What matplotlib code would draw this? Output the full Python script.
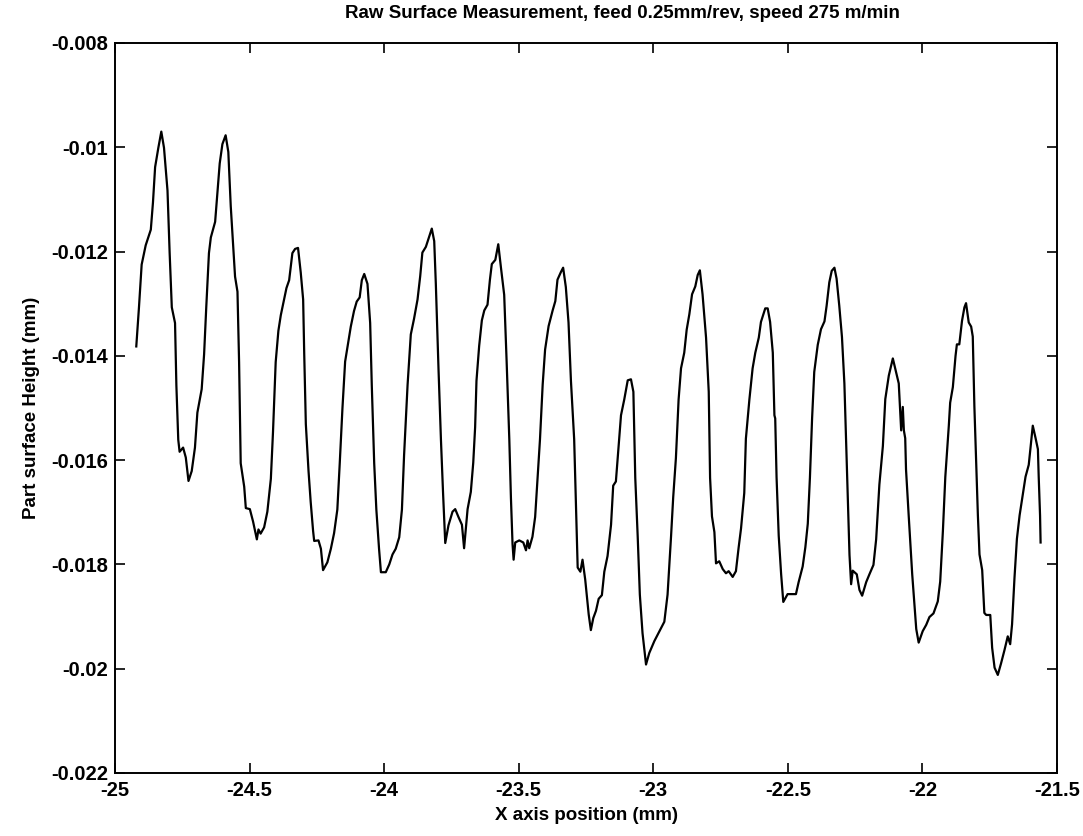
import matplotlib
matplotlib.use("Agg")
import matplotlib.pyplot as plt
import numpy as np

plt.rcParams['font.family'] = ['Liberation Sans', 'DejaVu Sans']

# x axis position (mm)
x_pos = [
    -24.921, -24.911, -24.901, -24.886, -24.867, -24.859, -24.851, -24.839, -24.828, -24.818,
    -24.805, -24.797, -24.789, -24.777, -24.772, -24.765, -24.760, -24.747, -24.737, -24.727,
    -24.715, -24.703, -24.694, -24.678, -24.669, -24.661, -24.651, -24.644, -24.628, -24.620,
    -24.611, -24.601, -24.589, -24.579, -24.570, -24.554, -24.545, -24.539, -24.533, -24.520,
    -24.514, -24.499, -24.487, -24.473, -24.467, -24.459, -24.446, -24.434, -24.421, -24.413,
    -24.403, -24.393, -24.384, -24.372, -24.363, -24.353, -24.341,
    -24.331, -24.320, -24.310, -24.301, -24.297, -24.291, -24.281, -24.273, -24.264, -24.260,
    -24.244, -24.235, -24.227, -24.211, -24.198, -24.186, -24.174, -24.165, -24.155, -24.145,
    -24.136, -24.124, -24.112, -24.102, -24.091, -24.083, -24.074, -24.062, -24.052, -24.046,
    -24.037, -24.029, -24.019, -24.012, -23.994, -23.981, -23.969, -23.957, -23.944, -23.934,
    -23.926, -23.913, -23.901, -23.889, -23.876, -23.866, -23.858, -23.845, -23.833, -23.823,
    -23.814, -23.808, -23.798, -23.789, -23.781, -23.773, -23.761, -23.746,
    -23.736, -23.724, -23.711, -23.703, -23.690, -23.678, -23.669, -23.662, -23.657, -23.647,
    -23.637, -23.628, -23.616, -23.607, -23.600, -23.587, -23.576, -23.566, -23.554, -23.545,
    -23.535, -23.529, -23.523, -23.519, -23.513, -23.498, -23.483, -23.473, -23.467, -23.461,
    -23.449, -23.439, -23.430, -23.421, -23.411, -23.402, -23.389, -23.374, -23.364, -23.356,
    -23.343, -23.335, -23.325, -23.315, -23.306, -23.294, -23.288, -23.281, -23.271, -23.263,
    -23.253, -23.240, -23.232, -23.223, -23.213, -23.203, -23.191, -23.182, -23.170, -23.157,
    -23.149,
    -23.139, -23.129, -23.120, -23.108, -23.095, -23.083, -23.074, -23.067, -23.058, -23.050,
    -23.040, -23.027, -23.015, -22.996, -22.978, -22.959, -22.947, -22.934, -22.926, -22.916,
    -22.906, -22.897, -22.885, -22.876, -22.866, -22.856, -22.844, -22.835, -22.827, -22.817,
    -22.804, -22.794, -22.789, -22.782, -22.773, -22.767, -22.755, -22.742, -22.730, -22.720,
    -22.705, -22.693, -22.683, -22.674, -22.662, -22.656, -22.643, -22.631, -22.621, -22.608,
    -22.600, -22.584, -22.575, -22.566, -22.556, -22.550,
    -22.547, -22.542, -22.534, -22.525, -22.517, -22.501, -22.482, -22.470, -22.460, -22.445,
    -22.435, -22.426, -22.418, -22.410, -22.402, -22.389, -22.377, -22.364, -22.356, -22.346,
    -22.337, -22.327, -22.319, -22.309, -22.299, -22.290, -22.284, -22.278, -22.271, -22.265,
    -22.259, -22.244, -22.234, -22.224, -22.209, -22.197, -22.182, -22.172, -22.160, -22.147,
    -22.138, -22.125, -22.110, -22.098, -22.088, -22.079, -22.073, -22.069, -22.064, -22.061,
    -22.051, -22.038, -22.023, -22.014, -21.999, -21.986, -21.974, -21.959,
    -21.943, -21.934, -21.924, -21.915, -21.902, -21.897, -21.887, -21.877, -21.872, -21.863,
    -21.853, -21.844, -21.838, -21.828, -21.819, -21.813, -21.807, -21.801, -21.794, -21.788,
    -21.778, -21.770, -21.763, -21.748, -21.741, -21.732, -21.720, -21.708, -21.695, -21.683,
    -21.674, -21.667, -21.658, -21.649, -21.639, -21.630, -21.617, -21.605, -21.599, -21.590,
    -21.580, -21.571, -21.568, -21.563, -21.561,
]

# part surface height (units of 1e-3 mm)
height_um = [
    -13.82, -13.07, -12.25, -11.88, -11.58, -11.06, -10.38, -10.01, -9.70, -10.01,
    -10.83, -12.03, -13.07, -13.37, -14.57, -15.61, -15.84, -15.76, -15.95, -16.40,
    -16.21, -15.76, -15.09, -14.64, -13.97, -13.07, -12.03, -11.73, -11.43, -10.91,
    -10.31, -9.94, -9.77, -10.09, -11.13, -12.48, -12.77, -14.12, -16.06, -16.51,
    -16.92, -16.94, -17.18, -17.52, -17.33, -17.41, -17.29, -16.99, -16.36, -15.46,
    -14.12, -13.52, -13.22, -12.92, -12.70, -12.55, -12.03,
    -11.95, -11.93, -12.40, -12.92, -13.96, -15.31, -16.21, -16.80, -17.36, -17.55,
    -17.54, -17.70, -18.11, -17.96, -17.70, -17.40, -16.95, -16.06, -15.01, -14.11,
    -13.82, -13.44, -13.14, -12.96, -12.88, -12.55, -12.43, -12.62, -13.37, -14.56,
    -16.06, -16.95, -17.70, -18.15, -18.15, -18.00, -17.81, -17.70, -17.48, -16.95,
    -15.91, -14.56, -13.59, -13.29, -12.92, -12.47, -12.02, -11.91, -11.72, -11.56,
    -11.80, -12.62, -14.26, -15.61, -16.65, -17.59, -17.25, -16.99,
    -16.94, -17.09, -17.24, -17.69, -16.94, -16.61, -16.05, -15.37, -14.48, -13.81,
    -13.32, -13.13, -13.02, -12.54, -12.24, -12.16, -11.86, -12.31, -12.83, -14.10,
    -15.60, -16.72, -17.61, -17.91, -17.58, -17.54, -17.58, -17.73, -17.54, -17.69,
    -17.47, -17.09, -16.35, -15.60, -14.55, -13.88, -13.43, -13.13, -12.95, -12.54,
    -12.39, -12.31, -12.68, -13.36, -14.48, -15.60, -16.72, -18.06, -18.14, -17.91,
    -18.29, -18.96, -19.26, -19.03, -18.89, -18.66, -18.59, -18.14, -17.84, -17.24,
    -16.49,
    -16.41, -15.74, -15.14, -14.84, -14.47, -14.45, -14.69, -16.34, -17.46, -18.58,
    -19.32, -19.92, -19.70, -19.47, -19.29, -19.10, -18.58, -17.46, -16.71, -15.96,
    -14.84, -14.24, -13.94, -13.50, -13.20, -12.82, -12.67, -12.45, -12.36, -12.82,
    -13.65, -14.69, -16.34, -17.08, -17.38, -17.98, -17.94, -18.09, -18.17, -18.13,
    -18.24, -18.13, -17.68, -17.31, -16.63, -15.59, -14.84, -14.24, -13.94, -13.65,
    -13.35, -13.09, -13.09, -13.35, -13.94, -15.14,
    -15.20, -16.33, -17.45, -18.19, -18.72, -18.57, -18.57, -18.57, -18.34, -18.04,
    -17.67, -17.22, -16.33, -15.20, -14.31, -13.79, -13.49, -13.34, -13.04, -12.59,
    -12.37, -12.31, -12.52, -13.04, -13.64, -14.53, -15.58, -16.70, -17.82, -18.38,
    -18.12, -18.19, -18.49, -18.60, -18.34, -18.19, -18.01, -17.52, -16.47, -15.73,
    -14.83, -14.38, -14.05, -14.31, -14.53, -15.43, -14.98, -15.43, -15.58, -16.18,
    -17.07, -18.19, -19.24, -19.50, -19.28, -19.16, -19.01, -18.94,
    -18.71, -18.33, -17.36, -16.32, -15.34, -14.90, -14.60, -14.00, -13.78, -13.78,
    -13.33, -13.07, -12.99, -13.36, -13.44, -13.63, -14.97, -15.94, -17.06, -17.81,
    -18.11, -18.93, -18.97, -18.97, -19.60, -19.98, -20.12, -19.90, -19.64, -19.38,
    -19.53, -19.15, -18.26, -17.51, -17.06, -16.76, -16.32, -16.09, -15.79, -15.34,
    -15.57, -15.79, -16.32, -17.06, -17.58,
]

x_ticks = [-25, -24.5, -24, -23.5, -23, -22.5, -22, -21.5]
x_tick_labels = ['-25', '-24.5', '-24', '-23.5', '-23', '-22.5', '-22', '-21.5']
y_ticks = [-0.022, -0.020, -0.018, -0.016, -0.014, -0.012, -0.010, -0.008]
y_tick_labels = ['-0.022', '-0.02', '-0.018', '-0.016', '-0.014', '-0.012', '-0.01', '-0.008']

title_text = 'Raw Surface Measurement, feed 0.25mm/rev, speed 275 m/min'
x_label = 'X axis position (mm)'
y_label = 'Part surface Height (mm)'

height_mm = np.array(height_um) * 1e-3

fig = plt.figure(figsize=(10.83, 8.36), dpi=100)
ax = fig.add_axes([0.1062, 0.0754, 0.8698, 0.8732])
ax.plot(x_pos, height_mm, color='black', linewidth=1.6)

ax.set_xlim(-25, -21.5)
ax.set_ylim(-0.022, -0.008)
ax.set_xticks(x_ticks)
ax.set_xticklabels(x_tick_labels, fontweight='bold')
ax.set_yticks(y_ticks)
ax.set_yticklabels(y_tick_labels, fontweight='bold')
ax.tick_params(direction='in', length=7, width=1.2, top=True, right=True,
               labelsize=14.5, colors='black')
ax.tick_params(axis='x', pad=6)
ax.tick_params(axis='y', pad=5)
for sp in ax.spines.values():
    sp.set_linewidth(1.4)
    sp.set_color('black')

fig.text(0.575, 0.984, title_text, fontsize=13.5, fontweight='bold',
         ha='center', va='center')
ax.set_xlabel(x_label, fontsize=13.5, fontweight='bold', labelpad=5)
ax.set_ylabel(y_label, fontsize=13.5, fontweight='bold', labelpad=8)

fig.savefig('out.png', dpi=100, facecolor='white')
